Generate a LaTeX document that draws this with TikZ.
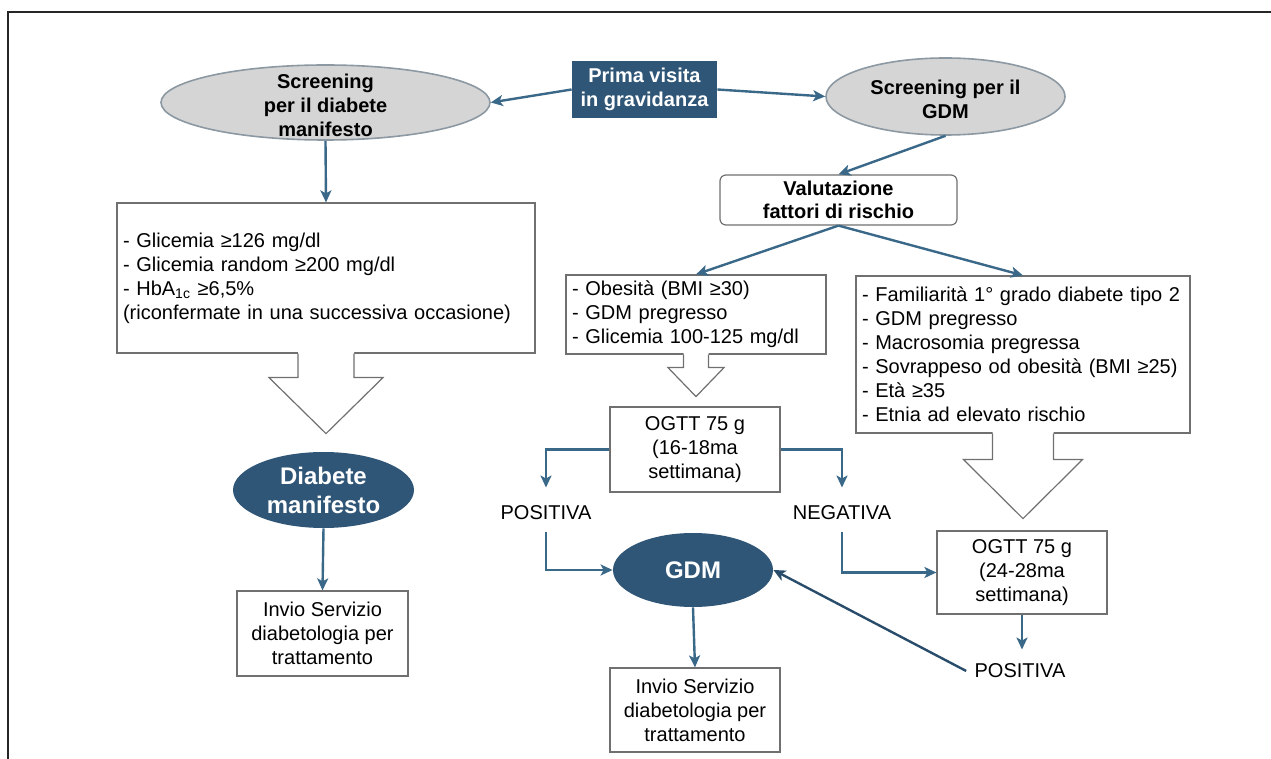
\documentclass[tikz,border=0pt]{standalone}
\usepackage{fontspec}
\setmainfont{Liberation Sans}
\usetikzlibrary{shapes.geometric, arrows.meta, calc, positioning}
\definecolor{navy}{HTML}{2F5577}
\definecolor{steel}{HTML}{3A6889}
\definecolor{ovalgray}{HTML}{D5D5D5}
\definecolor{ovalline}{HTML}{8C98A2}
\definecolor{boxline}{HTML}{707070}
\tikzset{
  lbox/.style={draw=boxline, line width=0.6pt, fill=white, inner xsep=3pt, inner ysep=0pt, align=left},
  cbox/.style={draw=boxline, line width=0.6pt, fill=white, inner sep=0pt, align=center},
  grayoval/.style={ellipse, draw=ovalline, line width=0.8pt, fill=ovalgray, inner sep=0pt},
  darkoval/.style={ellipse, fill=navy, inner sep=0pt},
  boldtxt/.style={font=\fontsize{10}{12}\selectfont\bfseries, align=center, inner sep=0pt},
  whitetxt/.style={font=\fontsize{12}{14.5}\selectfont\bfseries, text=white, align=center, inner sep=0pt},
  word/.style={inner sep=4pt},
  conn/.style={draw=steel, line width=1.2pt, -{Stealth[length=6pt,width=5.5pt,inset=1.5pt]}},
}
% open block arrow hanging under a box: anchor, shaft half, head half, neck, tip
\newcommand{\hollowarrow}[5]{%
  \fill[white] ($(#1)+(-#2,-2)$) -- ($(#1)+(-#2,#4)$) -- ($(#1)+(-#3,#4)$) -- ($(#1)+(0,#5)$)
    -- ($(#1)+(#3,#4)$) -- ($(#1)+(#2,#4)$) -- ($(#1)+(#2,-2)$) -- cycle;
  \draw[boxline, line width=0.6pt] ($(#1)+(-#2,0)$) -- ($(#1)+(-#2,#4)$) -- ($(#1)+(-#3,#4)$)
    -- ($(#1)+(0,#5)$) -- ($(#1)+(#3,#4)$) -- ($(#1)+(#2,#4)$) -- ($(#1)+(#2,0)$);
}

\begin{document}
\begin{tikzpicture}[x=0.5pt, y=-0.5pt, font=\fontsize{10}{12}\selectfont]
\useasboundingbox (0,0) rectangle (1271,759);
% frame
\draw[line width=0.8pt, black!85] (8,759) -- (8,12) -- (1271,12);

% top row
\node[fill=navy, text=white, boldtxt, minimum width=72.5pt, minimum height=28.5pt] (prima) at (644.5,89.5) {Prima visita\\in gravidanza};
\node[grayoval, minimum width=164.5pt, minimum height=37.5pt] (scrdm) at (325.5,102.5) {};
\node[boldtxt] (scrdmtxt) at ($(scrdm)+(0,3)$) {Screening\\per il diabete\\manifesto};
\node[grayoval, minimum width=119.5pt, minimum height=38.5pt] (scrgdm) at (945.5,96.5) {};
\node[boldtxt] (scrgdmtxt) at ($(scrgdm)+(0,3)$) {Screening per il\\GDM};
\node[cbox, rounded corners=3pt, minimum width=118.5pt, minimum height=25pt, font=\fontsize{10}{11.5}\selectfont\bfseries] (valut) at (838.5,200) {Valutazione\\fattori di rischio};

% criteria boxes
\node[lbox, text width=203pt, minimum height=75pt] (boxdm) at (326,278) {- Glicemia ≥126 mg/dl\\- Glicemia random ≥200 mg/dl\\- HbA\textsubscript{1c} ≥6,5\%\\(riconfermate in una successiva occasione)};
\node[lbox, text width=124pt, minimum height=39.5pt] (obes) at (696,314.5) {- Obesità (BMI ≥30)\\- GDM pregresso\\- Glicemia 100-125 mg/dl};
\node[lbox, text width=161pt, minimum height=78.5pt] (famil) at (1023,354.5) {- Familiarità 1° grado diabete tipo 2\\- GDM pregresso\\- Macrosomia pregressa\\- Sovrappeso od obesità (BMI ≥25)\\- Età ≥35\\- Etnia ad elevato rischio};

% tests and outcomes
\node[cbox, minimum width=85pt, minimum height=42.5pt] (ogtt1) at (695,449.5) {OGTT 75 g\\(16-18ma\\settimana)};
\node[cbox, minimum width=85pt, minimum height=41.5pt] (ogtt2) at (1022,572.5) {OGTT 75 g\\(24-28ma\\settimana)};
\node[word] (pos1) at (546,513) {POSITIVA};
\node[word] (neg) at (842,513) {NEGATIVA};
\node[word] (pos2) at (1020,671) {POSITIVA};
\node[darkoval, minimum width=90.5pt, minimum height=38pt] (dmell) at (323.5,490) {};
\node[whitetxt] (dmtxt) at (dmell) {Diabete\\manifesto};
\node[darkoval, minimum width=80pt, minimum height=37pt] (gdm) at (693,570) {};
\node[whitetxt] (gdmtxt) at (gdm) {GDM};
\node[cbox, minimum width=85.5pt, minimum height=42.5pt] (invio1) at (322.5,633.5) {Invio Servizio\\diabetologia per\\trattamento};
\node[cbox, minimum width=85pt, minimum height=42pt] (invio2) at (695,710) {Invio Servizio\\diabetologia per\\trattamento};

% block arrows
\hollowarrow{boxdm.south}{28}{57}{24}{80}
\hollowarrow{obes.south}{12.5}{28}{13}{42}
\hollowarrow{famil.south}{30.5}{59.5}{26}{85}

% connectors
\draw[conn] (prima.west) -- (scrdm.east);
\draw[conn] (prima.east) -- (scrgdm.west);
\draw[conn] (scrdm.south) -- (boxdm.north);
\draw[conn] (scrgdm.south) -- (valut.north);
\draw[conn] (valut.south) -- (obes.north);
\draw[conn] (valut.south) -- (famil.north);
\draw[conn, shorten >=5pt] (ogtt1.west) -| (pos1.north);
\draw[conn, shorten >=5pt] (ogtt1.east) -| (neg.north);
\draw[conn, shorten <=2pt] (pos1.south) |- (gdm.west);
\draw[conn, shorten <=2pt] (neg.south) |- (ogtt2.west);
\draw[conn, shorten >=3pt] (ogtt2.south) -- (ogtt2.south |- pos2.north);
\draw[conn, draw=navy!90!black] (pos2.west) -- (gdm.east);
\draw[conn] (dmell.south) -- (invio1.north);
\draw[conn] (gdm.south) -- (invio2.north);
\end{tikzpicture}
\end{document}
